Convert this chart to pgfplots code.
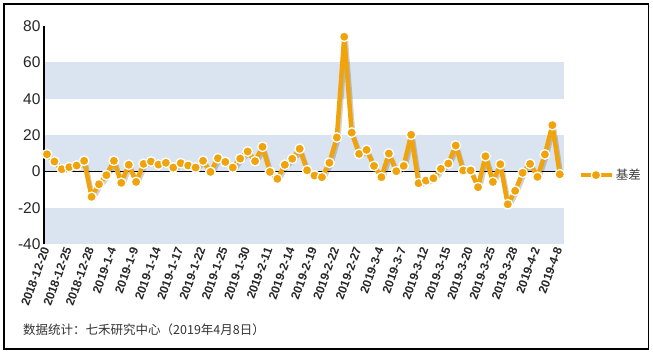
\documentclass[border=0pt]{standalone}
\usepackage{pgfplots}
\pgfplotsset{compat=1.18}
\usepackage{pgfplotstable}
\usepackage{fontspec}
\setmainfont{Liberation Sans}
\newfontfamily\cjk{Noto Sans CJK SC}
\definecolor{org}{HTML}{F0A30A}
\definecolor{band}{HTML}{DAE4F0}
\pgfplotstableread{
x y
0 9.5
1 5.5
2 1.3
3 2.4
4 3.3
5 5.9
6 -13.9
7 -7.0
8 -2.0
9 5.9
10 -6.2
11 3.7
12 -5.7
13 4.2
14 5.5
15 3.8
16 4.8
17 2.2
18 4.6
19 3.3
20 2.2
21 5.9
22 -0.2
23 7.3
24 5.3
25 2.2
26 7.1
27 11.0
28 5.7
29 13.6
30 -0.2
31 -4.0
32 3.7
33 7.0
34 12.5
35 0.7
36 -2.2
37 -3.1
38 4.8
39 18.7
40 74.1
41 21.4
42 9.7
43 11.9
44 3.1
45 -3.1
46 9.9
47 0.2
48 3.1
49 20.2
50 -6.4
51 -5.0
52 -3.7
53 1.5
54 4.4
55 14.3
56 0.6
57 0.6
58 -8.6
59 8.4
60 -5.7
61 4.0
62 -18.0
63 -10.6
64 -0.7
65 4.2
66 -2.9
67 9.4
68 25.5
69 -1.5
}\datatable
\begin{document}
\begin{tikzpicture}[x=1pt,y=1pt]
\path[use as bounding box] (0,0) rectangle (653,354);
\draw[line width=1.5pt] (4,5) rectangle (648.5,350);
\begin{axis}[
  at={(44pt,109.7pt)}, anchor=south west,
  scale only axis, width=519.5pt, height=218.3pt,
  xmin=-0.4, xmax=69.5, ymin=-40, ymax=80,
  axis lines*=left,
  x axis line style={draw=none},
  y axis line style={draw=none},
  tick style={draw=none},
  major tick length=0pt,
  ytick={-40,-20,0,20,40,60,80},
  yticklabel style={font=\fontsize{15.5}{16}\selectfont, text=black!85, /pgf/number format/assume math mode=true},
  xtick={0,3,...,69},
  xticklabels={2018-12-20,2018-12-25,2018-12-28,2019-1-4,2019-1-9,2019-1-14,2019-1-17,2019-1-22,2019-1-25,2019-1-30,2019-2-11,2019-2-14,2019-2-19,2019-2-22,2019-2-27,2019-3-4,2019-3-7,2019-3-12,2019-3-15,2019-3-20,2019-3-25,2019-3-28,2019-4-2,2019-4-8},
  xticklabel style={rotate=70, anchor=east, font=\fontsize{12}{13}\selectfont\bfseries, text=black!85, inner sep=3.5pt},
  clip=false,
  legend style={draw=none, fill=none, at={(rel axis cs:1.028,0.317)}, anchor=west,
    font=\cjk\fontsize{12.5}{13}\selectfont, text=black!75, inner sep=0pt},
  legend image code/.code={\draw[mark repeat=2, mark phase=2, #1] plot coordinates {(0pt,0pt)(15.5pt,0pt)(31pt,0pt)};},
]
\fill[band] (rel axis cs:0,0) rectangle (rel axis cs:1,1/6);
\fill[band] (rel axis cs:0,2/6) rectangle (rel axis cs:1,3/6);
\fill[band] (rel axis cs:0,4/6) rectangle (rel axis cs:1,5/6);
\draw[black, line width=0.8pt] (rel axis cs:0,1/3) -- (rel axis cs:1,1/3);
\draw[black, line width=2pt] (rel axis cs:0,0) -- (rel axis cs:0,1);
\addplot[black, opacity=0.18, line width=4.5pt, line join=round, xshift=1.5pt, yshift=-2pt, forget plot] table[x=x,y=y] {\datatable};
\addplot[org, line width=4.5pt, line join=round, mark=*, mark size=4.8pt, mark options={fill=org, draw=white, line width=1.3pt}] table[x=x,y=y] {\datatable};
\addlegendentry{基差}
\end{axis}
\node[anchor=west, font=\cjk\fontsize{12.5}{13}\selectfont, text=black!80, inner sep=0pt] at (23,24) {数据统计：七禾研究中心（2019年4月8日）};
\end{tikzpicture}
\end{document}
